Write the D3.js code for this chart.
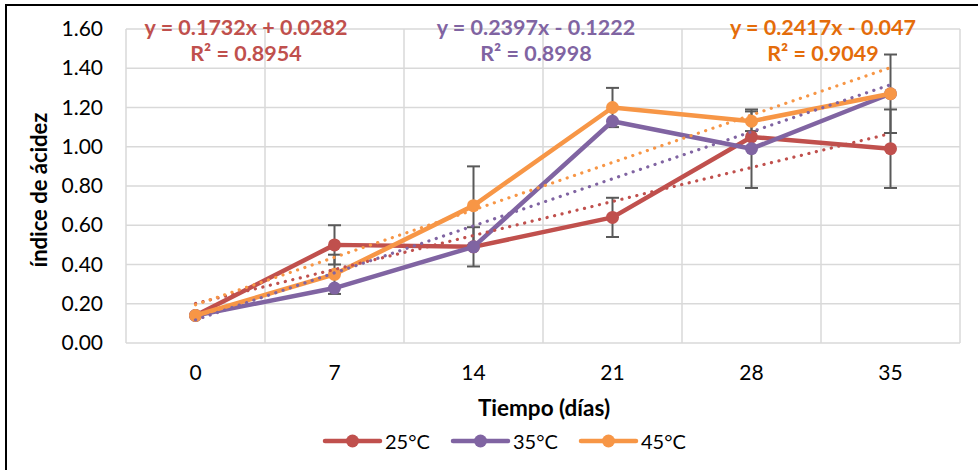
<!DOCTYPE html>
<html>
<head>
<meta charset="utf-8">
<script src="https://cdn.jsdelivr.net/npm/d3@7"></script>
<style>
  html, body { margin: 0; padding: 0; background: #fff; }
  svg { display: block; font-family: Lato, "Open Sans", sans-serif; }
</style>
</head>
<body>
<svg id="chart" width="978" height="470"></svg>
<script>
// Acidity index over storage time at three temperatures
const days = ["0", "7", "14", "21", "28", "35"];
const yTicks = [0, 0.2, 0.4, 0.6, 0.8, 1.0, 1.2, 1.4, 1.6];

const seriesNames = ["25°C", "35°C", "45°C"];
const seriesColors = ["#C0504D", "#8064A2", "#F79646"];
const labelColors = ["#C0504D", "#8064A2", "#E46C0A"];

const values25 = [0.14, 0.50, 0.49, 0.64, 1.05, 0.99];
const values35 = [0.14, 0.28, 0.49, 1.13, 0.99, 1.27];
const values45 = [0.14, 0.35, 0.70, 1.20, 1.13, 1.27];

const err25 = [0, 0.10, 0, 0.10, 0, 0.20];
const err35 = [0, 0, 0.10, 0, 0.20, 0];
const err45 = [0, 0.10, 0.20, 0.10, 0.05, 0.20];

// Linear trendlines (x = 1..6) and their labels
const slopes = [0.1732, 0.2397, 0.2417];
const intercepts = [0.0282, -0.1222, -0.047];
const eqLabels = ["y = 0.1732x + 0.0282", "y = 0.2397x - 0.1222", "y = 0.2417x - 0.047"];
const r2Labels = ["R² = 0.8954", "R² = 0.8998", "R² = 0.9049"];

const allValues = [values25, values35, values45];
const allErrors = [err25, err35, err45];

const svg = d3.select("#chart");

// frame
svg.append("rect")
  .attr("x", 6).attr("y", 5).attr("width", 1000).attr("height", 500)
  .attr("fill", "none").attr("stroke", "#000").attr("stroke-width", 2);

const plot = { left: 126, right: 960, top: 29, bottom: 343 };

const x = d3.scaleBand().domain(days).range([plot.left, plot.right]).padding(0);
const cx = d => x(d) + x.bandwidth() / 2;
const y = d3.scaleLinear().domain([0, 1.6]).range([plot.bottom, plot.top]);

// gridlines
const grid = svg.append("g").attr("stroke", "#D9D9D9").attr("stroke-width", 1.5);
grid.selectAll("line.h").data(yTicks).join("line")
  .attr("x1", plot.left).attr("x2", plot.right)
  .attr("y1", d => y(d)).attr("y2", d => y(d));
const bounds = days.map(d => x(d)).concat([plot.right]);
grid.selectAll("line.v").data(bounds).join("line")
  .attr("x1", d => d).attr("x2", d => d)
  .attr("y1", plot.top).attr("y2", plot.bottom);

// axes
const yAxis = svg.append("g")
  .attr("transform", `translate(${plot.left - 10},0)`)
  .call(d3.axisLeft(y).tickValues(yTicks).tickFormat(d3.format(".2f")).tickSize(0).tickPadding(13));
yAxis.select(".domain").remove();
yAxis.selectAll("text").attr("font-size", 21).attr("fill", "#000").attr("font-family", "Lato, sans-serif");

const xAxis = svg.append("g")
  .attr("transform", `translate(0,${plot.bottom})`)
  .call(d3.axisBottom(x).tickSize(0).tickPadding(22));
xAxis.select(".domain").remove();
xAxis.selectAll("text").attr("font-size", 21).attr("fill", "#000").attr("font-family", "Lato, sans-serif");

// axis titles
svg.append("text")
  .attr("transform", `translate(47,${(plot.top + plot.bottom) / 2 + 4}) rotate(-90)`)
  .attr("text-anchor", "middle").attr("font-weight", "bold").attr("font-size", 22)
  .text("índice de ácidez");
svg.append("text")
  .attr("x", 544).attr("y", 416)
  .attr("text-anchor", "middle").attr("font-weight", "bold").attr("font-size", 22.5)
  .text("Tiempo (días)");

// error bars
const eb = svg.append("g").attr("stroke", "#595959").attr("stroke-width", 2);
allValues.forEach((vals, s) => {
  vals.forEach((v, i) => {
    const e = allErrors[s][i];
    if (!e) return;
    const px = cx(days[i]);
    eb.append("line").attr("x1", px).attr("x2", px).attr("y1", y(v + e)).attr("y2", y(v - e));
    [v + e, v - e].forEach(t => {
      eb.append("line").attr("x1", px - 6.5).attr("x2", px + 6.5).attr("y1", y(t)).attr("y2", y(t));
    });
  });
});

// series lines and markers
const line = d3.line().x((d, i) => cx(days[i])).y(d => y(d));
allValues.forEach((vals, s) => {
  const g = svg.append("g");
  g.append("path").datum(vals)
    .attr("d", line).attr("fill", "none")
    .attr("stroke", seriesColors[s]).attr("stroke-width", 4.5).attr("stroke-linejoin", "round");
  g.selectAll("circle").data(vals).join("circle")
    .attr("cx", (d, i) => cx(days[i])).attr("cy", d => y(d)).attr("r", 6.5)
    .attr("fill", seriesColors[s]);
});

// dotted trendlines
const xIdx = days.map((d, i) => i + 1);
slopes.forEach((m, s) => {
  const pts = xIdx.map(k => m * k + intercepts[s]);
  svg.append("path").datum(pts)
    .attr("d", line).attr("fill", "none")
    .attr("stroke", seriesColors[s]).attr("stroke-width", 3.2)
    .attr("stroke-linecap", "round").attr("stroke-dasharray", "0.1 7.6");
});

// trendline equations
const eqCenters = [246, 536, 823];
eqLabels.forEach((t, s) => {
  svg.append("text").attr("x", eqCenters[s]).attr("y", 35)
    .attr("text-anchor", "middle").attr("font-weight", "bold").attr("font-size", 21.5)
    .attr("fill", labelColors[s]).text(t);
  svg.append("text").attr("x", eqCenters[s]).attr("y", 61)
    .attr("text-anchor", "middle").attr("font-weight", "bold").attr("font-size", 21.5)
    .attr("fill", labelColors[s]).text(r2Labels[s]);
});

// legend
const legendX = [325, 453, 581];
seriesNames.forEach((n, s) => {
  const g = svg.append("g").attr("transform", `translate(${legendX[s]},441)`);
  g.append("line").attr("x1", 0).attr("x2", 55).attr("y1", 0).attr("y2", 0)
    .attr("stroke", seriesColors[s]).attr("stroke-width", 4.5).attr("stroke-linecap", "round");
  g.append("circle").attr("cx", 27.5).attr("cy", 0).attr("r", 6.5).attr("fill", seriesColors[s]);
  g.append("text").attr("x", 60).attr("y", 8).attr("font-size", 20).attr("fill", "#000").text(n);
});
</script>
</body>
</html>
